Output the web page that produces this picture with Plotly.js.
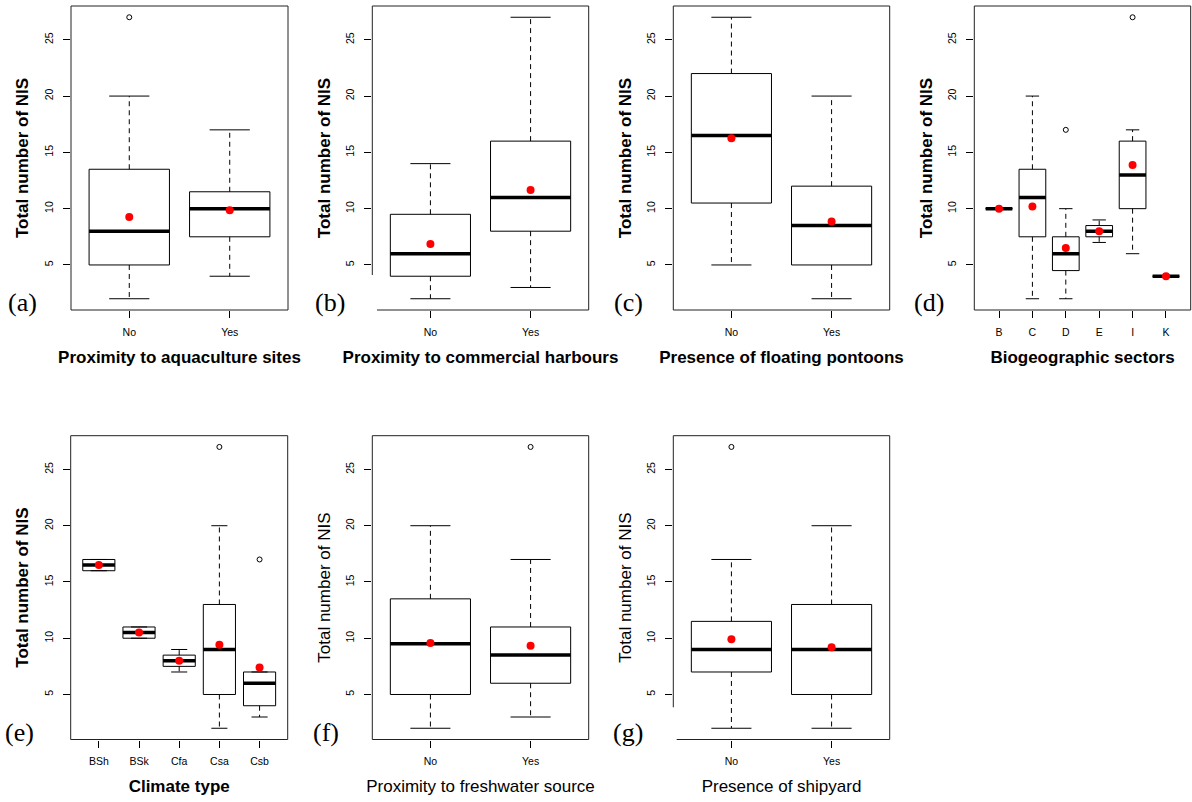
<!DOCTYPE html>
<html><head><meta charset="utf-8">
<script src="https://cdn.plot.ly/plotly-3.0.1.min.js"></script>
<style>html,body{margin:0;padding:0;background:#fff}#chart{width:1192px;height:802px}</style>
</head><body><div id="chart"></div>
<script>
// ---- data ----
// (a) Proximity to aquaculture sites
const catsA = ["No", "Yes"];
const lowA = [2, 4], q1A = [5, 7.5], medA = [8, 10], q3A = [13.5, 11.5], highA = [20, 17];
const meanA = [9.27, 9.87];
const outCatA = ["No"], outValA = [27];
// (b) Proximity to commercial harbours
const catsB = ["No", "Yes"];
const lowB = [2, 3], q1B = [4, 8], medB = [6, 11], q3B = [9.5, 16], highB = [14, 27];
const meanB = [6.87, 11.65];
const outCatB = [], outValB = [];
// (c) Presence of floating pontoons
const catsC = ["No", "Yes"];
const lowC = [5, 2], q1C = [10.5, 5], medC = [16.5, 8.5], q3C = [22, 12], highC = [27, 20];
const meanC = [16.25, 8.86];
const outCatC = [], outValC = [];
// (d) Biogeographic sectors
const catsD = ["B", "C", "D", "E", "I", "K"];
const lowD = [10, 2, 2, 7, 6, 4], q1D = [10, 7.5, 4.5, 7.5, 10, 4], medD = [10, 11, 6, 8, 13, 4];
const q3D = [10, 13.5, 7.5, 8.5, 16, 4], highD = [10, 20, 10, 9, 17, 4];
const meanD = [10, 10.2, 6.5, 8, 13.87, 4];
const outCatD = ["D", "I"], outValD = [17, 27];
// (e) Climate type
const catsE = ["BSh", "BSk", "Cfa", "Csa", "Csb"];
const lowE = [16, 10, 7, 2, 3], q1E = [16, 10, 7.5, 5, 4], medE = [16.5, 10.5, 8, 9, 6];
const q3E = [17, 11, 8.5, 13, 7], highE = [17, 11, 9, 20, 7];
const meanE = [16.5, 10.5, 8, 9.43, 7.4];
const outCatE = ["Csa", "Csb"], outValE = [27, 17];
// (f) Proximity to freshwater source
const catsF = ["No", "Yes"];
const lowF = [2, 3], q1F = [5, 6], medF = [9.5, 8.5], q3F = [13.5, 11], highF = [20, 17];
const meanF = [9.58, 9.34];
const outCatF = ["Yes"], outValF = [27];
// (g) Presence of shipyard
const catsG = ["No", "Yes"];
const lowG = [2, 2], q1G = [7, 5], medG = [9, 9], q3G = [11.5, 13], highG = [17, 20];
const meanG = [9.9, 9.19];
const outCatG = ["No"], outValG = [27];

const yTicks = [5, 10, 15, 20, 25];
const yTitle = "Total number of NIS";

// ---- layout helpers ----
const W = 1192, H = 802;
const FONT = "Liberation Sans, Arial, Helvetica, sans-serif";
const SERIF = "Liberation Serif, Times New Roman, serif";

const panels = [
  {cats: catsA, low: lowA, q1: q1A, med: medA, q3: q3A, high: highA, mean: meanA, oc: outCatA, ov: outValA,
   xt: "Proximity to aquaculture sites", bold: true, lab: "(a)", px: [71, 288], py: [6, 310], lp: [22, 302], cut: null},
  {cats: catsB, low: lowB, q1: q1B, med: medB, q3: q3B, high: highB, mean: meanB, oc: outCatB, ov: outValB,
   xt: "Proximity to commercial harbours", bold: true, lab: "(b)", px: [372.3, 588.7], py: [6, 310], lp: [329.5, 302], cut: [275, 377]},
  {cats: catsC, low: lowC, q1: q1C, med: medC, q3: q3C, high: highC, mean: meanC, oc: outCatC, ov: outValC,
   xt: "Presence of floating pontoons", bold: true, lab: "(c)", px: [673.3, 889.7], py: [6, 310], lp: [628, 302], cut: null},
  {cats: catsD, low: lowD, q1: q1D, med: medD, q3: q3D, high: highD, mean: meanD, oc: outCatD, ov: outValD,
   xt: "Biogeographic sectors", bold: true, lab: "(d)", px: [974.3, 1190.7], py: [6, 310], lp: [929, 302], cut: null},
  {cats: catsE, low: lowE, q1: q1E, med: medE, q3: q3E, high: highE, mean: meanE, oc: outCatE, ov: outValE,
   xt: "Climate type", bold: true, lab: "(e)", px: [70.7, 287.7], py: [435.7, 739.5], lp: [19, 732], cut: null},
  {cats: catsF, low: lowF, q1: q1F, med: medF, q3: q3F, high: highF, mean: meanF, oc: outCatF, ov: outValF,
   xt: "Proximity to freshwater source", bold: false, lab: "(f)", px: [372.3, 588.7], py: [435.7, 739.5], lp: [326, 732], cut: null},
  {cats: catsG, low: lowG, q1: q1G, med: medG, q3: q3G, high: highG, mean: meanG, oc: outCatG, ov: outValG,
   xt: "Presence of shipyard", bold: false, lab: "(g)", px: [673.3, 889.7], py: [435.7, 739.5], lp: [628, 732], cut: [707.3, 676.7]}
];

const traces = [];
const layout = {
  width: W, height: H, margin: {l: 0, r: 0, t: 0, b: 0},
  paper_bgcolor: "#fff", plot_bgcolor: "#fff", showlegend: false,
  font: {family: FONT, color: "#000"},
  shapes: [], annotations: []
};

const HW = 0.4, CW = 0.2;

panels.forEach((p, k) => {
  const s = k === 0 ? "" : String(k + 1);
  const xa = "x" + s, ya = "y" + s;
  const n = p.cats.length;
  const bx = [], by = [], mx = [], my = [], wx = [], wy = [], cx = [], cy = [];
  p.cats.forEach((c, i) => {
    const x = i + 1;
    bx.push(x - HW, x + HW, x + HW, x - HW, x - HW, null);
    by.push(p.q1[i], p.q1[i], p.q3[i], p.q3[i], p.q1[i], null);
    mx.push(x - HW, x + HW, null); my.push(p.med[i], p.med[i], null);
    wx.push(x, x, null, x, x, null); wy.push(p.q1[i], p.low[i], null, p.q3[i], p.high[i], null);
    cx.push(x - CW, x + CW, null, x - CW, x + CW, null); cy.push(p.low[i], p.low[i], null, p.high[i], p.high[i], null);
  });
  const common = {xaxis: xa, yaxis: ya, hoverinfo: "skip", type: "scatter"};
  traces.push(Object.assign({x: wx, y: wy, mode: "lines", line: {color: "#000", width: 1, dash: "5px,4px"}}, common));
  traces.push(Object.assign({x: cx, y: cy, mode: "lines", line: {color: "#000", width: 1}}, common));
  traces.push(Object.assign({x: bx, y: by, mode: "lines", line: {color: "#000", width: 1}}, common));
  traces.push(Object.assign({x: mx, y: my, mode: "lines", line: {color: "#000", width: 3.5}}, common));
  traces.push(Object.assign({x: p.oc.map(c => p.cats.indexOf(c) + 1), y: p.ov, mode: "markers",
    marker: {symbol: "circle-open", size: 5, color: "#000", line: {width: 1, color: "#000"}}}, common));
  traces.push(Object.assign({x: p.cats.map((c, i) => i + 1), y: p.mean, mode: "markers",
    marker: {symbol: "circle", size: 8, color: "#ff0000", line: {width: 0}}}, common));

  const pad = 0.04 * n;
  layout["xaxis" + s] = {
    domain: [p.px[0] / W, p.px[1] / W], anchor: ya,
    range: [0.5 - pad, n + 0.5 + pad],
    tickmode: "array", tickvals: p.cats.map((c, i) => i + 1), ticktext: p.cats,
    ticks: "outside", ticklen: 7, tickwidth: 1, tickcolor: "#000",
    tickfont: {size: 10.5, family: FONT, color: "#000"}, ticklabelstandoff: 5,
    showgrid: false, zeroline: false, showline: false,
    title: {text: p.xt, font: {size: 17, family: FONT, color: "#000", weight: p.bold ? "bold" : "normal"}, standoff: 14}
  };
  layout["yaxis" + s] = {
    domain: [1 - p.py[1] / H, 1 - p.py[0] / H], anchor: xa,
    range: [1, 28], tickmode: "array", tickvals: yTicks, ticktext: yTicks.map(String),
    ticks: "outside", ticklen: 7, tickwidth: 1, tickcolor: "#000", tickangle: -90,
    tickfont: {size: 10.5, family: FONT, color: "#000"}, ticklabelstandoff: 6,
    showgrid: false, zeroline: false, showline: false,
    title: {text: yTitle, font: {size: 17, family: FONT, color: "#000", weight: p.bold ? "bold" : "normal"}, standoff: 9}
  };
  // frame
  const xr = xa + " domain", yr = ya + " domain";
  const ln = {color: "#222", width: 1};
  let leftY0 = 0, botX0 = 0;
  if (p.cut) {
    leftY0 = (p.py[1] - p.cut[0]) / (p.py[1] - p.py[0]);
    botX0 = (p.cut[1] - p.px[0]) / (p.px[1] - p.px[0]);
  }
  layout.shapes.push(
    {type: "line", xref: xr, yref: yr, x0: 0, x1: 1, y0: 1, y1: 1, line: ln},
    {type: "line", xref: xr, yref: yr, x0: 1, x1: 1, y0: 0, y1: 1, line: ln},
    {type: "line", xref: xr, yref: yr, x0: botX0, x1: 1, y0: 0, y1: 0, line: ln},
    {type: "line", xref: xr, yref: yr, x0: 0, x1: 0, y0: leftY0, y1: 1, line: ln}
  );
  layout.annotations.push({
    text: p.lab, xref: "paper", yref: "paper", x: p.lp[0] / W, y: 1 - p.lp[1] / H,
    xanchor: "center", yanchor: "middle", showarrow: false,
    font: {family: SERIF, size: 26, color: "#000"}
  });
});

Plotly.newPlot("chart", traces, layout, {staticPlot: true, displayModeBar: false});
</script>
</body></html>
